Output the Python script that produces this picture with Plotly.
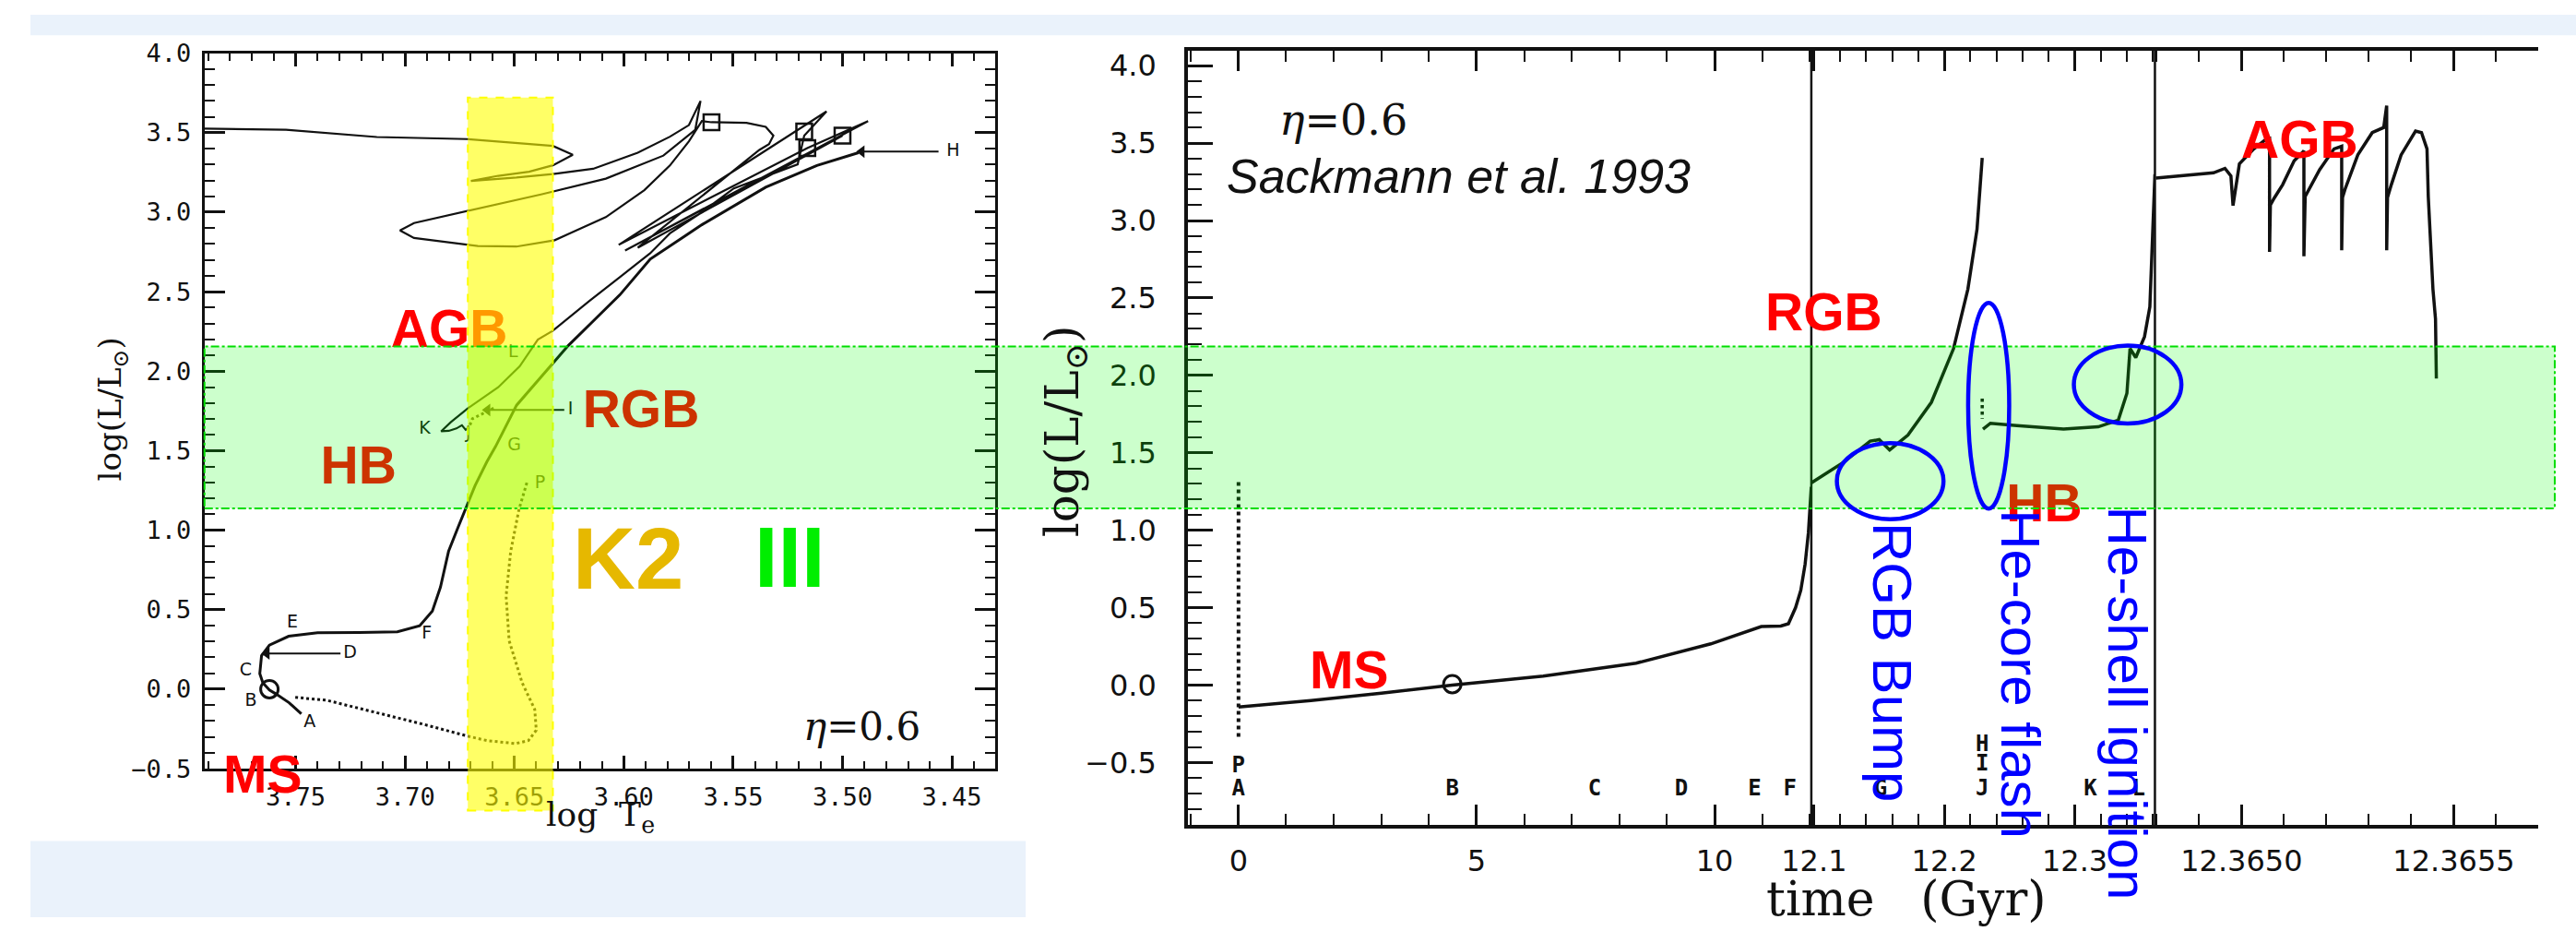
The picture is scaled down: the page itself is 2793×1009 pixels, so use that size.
import plotly.graph_objects as go

W, H = 2793, 1009

# ---------------- Left panel: HR diagram (log Te, log L) ----------------
pre_ms_logT = [3.6443, 3.6479, 3.6517, 3.6538, 3.6524, 3.6465, 3.6407, 3.6400, 3.6436, 3.6495, 3.6626, 3.6714, 3.6918, 3.7138, 3.7357, 3.7503]
pre_ms_logL = [1.299, 1.131, 0.867, 0.586, 0.305, 0.042, -0.127, -0.258, -0.323, -0.342, -0.323, -0.295, -0.220, -0.145, -0.070, -0.051]

ms_rgb_logT = [3.7474, 3.7530, 3.7590, 3.7620, 3.7650, 3.7664, 3.7656, 3.7620, 3.7532, 3.7400,
               3.7211, 3.7035, 3.6933, 3.6875, 3.6838, 3.6801, 3.6758, 3.6721, 3.6680, 3.6626,
               3.6587, 3.6490, 3.6324, 3.6254, 3.6157, 3.6018, 3.5879, 3.5643, 3.5351, 3.5117, 3.4927]
ms_rgb_logL = [-0.155, -0.085, -0.030, -0.005, 0.040, 0.098, 0.211, 0.277, 0.333, 0.355,
               0.357, 0.361, 0.399, 0.492, 0.642, 0.867, 1.017, 1.139, 1.280, 1.430,
               1.524, 1.786, 2.048, 2.161, 2.292, 2.480, 2.705, 2.921, 3.157, 3.294, 3.374]

flash_logT = [3.6595, 3.6653, 3.6692, 3.6705, 3.6720]
flash_logL = [1.767, 1.729, 1.701, 1.655, 1.627]

hb_agb_logT = [3.6720, 3.6740, 3.6765, 3.6800, 3.6835, 3.6790, 3.6712, 3.6574, 3.6476, 3.6393, 3.6324, 3.6157, 3.6018, 3.5879, 3.5789, 3.5643, 3.5497, 3.5205,
               3.5175, 3.5073, 3.6023, 3.5161, 3.4883, 3.5994, 3.5000, 3.5936, 3.5380, 3.5336, 3.5316, 3.5351, 3.5439, 3.5599, 3.5643,
               3.5702, 3.5789, 3.5906, 3.6082, 3.6316, 3.6491, 3.6667, 3.6959, 3.7023, 3.6959, 3.6696, 3.6374, 3.6082, 3.5819, 3.5673, 3.5649,
               3.5702, 3.5789, 3.5936, 3.6140, 3.6324, 3.6491, 3.6699, 3.6574, 3.6433, 3.6324, 3.6233, 3.6324, 3.6713, 3.7129, 3.7544, 3.7921]
hb_agb_logL = [1.627, 1.660, 1.640, 1.625, 1.622, 1.680, 1.767, 1.899, 2.030, 2.199, 2.255, 2.442, 2.592, 2.742, 2.867, 3.000, 3.150, 3.301,
               3.482, 3.634, 2.795, 3.403, 3.573, 2.759, 3.482, 2.777, 3.392, 3.428, 3.482, 3.537, 3.562, 3.566, 3.573,
               3.446, 3.294, 3.139, 2.969, 2.824, 2.784, 2.788, 2.838, 2.885, 2.932, 3.012, 3.113, 3.211, 3.356, 3.519, 3.700,
               3.548, 3.475, 3.374, 3.273, 3.240, 3.218, 3.197, 3.229, 3.255, 3.295, 3.361, 3.417, 3.460, 3.473, 3.519, 3.526]

square_logT = [3.5599, 3.5175, 3.5000, 3.5161]
square_logL = [3.566, 3.508, 3.482, 3.403]
circle_logT = [3.7620]
circle_logL = [0.000]

left_point_labels = ["A", "B", "C", "E", "F", "G", "J", "K", "L", "P"]
left_point_logT = [3.7436, 3.7705, 3.7728, 3.7515, 3.6901, 3.6500, 3.6710, 3.6910, 3.6506, 3.6383]
left_point_logL = [-0.209, -0.075, 0.116, 0.417, 0.345, 1.528, 1.608, 1.637, 2.118, 1.293]

arrow_labels = ["H", "I", "D"]
arrow_label_logT = [3.4494, 3.6243, 3.7251]
arrow_tail_logT = [3.4561, 3.6272, 3.7295]
arrow_tip_logT = [3.4912, 3.6623, 3.7632]
arrow_logL = [3.381, 1.756, 0.225]

left_xticks = [3.75, 3.70, 3.65, 3.60, 3.55, 3.50, 3.45]
left_xticklabels = ["3.75", "3.70", "3.65", "3.60", "3.55", "3.50", "3.45"]
left_yticks = [-0.5, 0.0, 0.5, 1.0, 1.5, 2.0, 2.5, 3.0, 3.5, 4.0]
left_yticklabels = ["−0.5", "0.0", "0.5", "1.0", "1.5", "2.0", "2.5", "3.0", "3.5", "4.0"]

# ---------------- Right panel: log L versus time (broken time axis) ----------------
pre_ms_time = [0.0, 0.0]
pre_ms_lum = [1.311, -0.336]

ms_time = [0.0, 1.52, 3.0, 4.49, 6.40, 8.35, 9.92, 10.98, 11.39, 11.55, 11.70, 11.81, 11.90, 11.97, 12.03]
ms_lum = [-0.142, -0.100, -0.052, 0.000, 0.058, 0.141, 0.266, 0.378, 0.381, 0.396, 0.500, 0.612, 0.780, 0.985, 1.280]

rgb_time = [12.098, 12.123, 12.143, 12.150, 12.158, 12.172, 12.190, 12.207, 12.218, 12.225, 12.229]
rgb_lum = [1.306, 1.441, 1.575, 1.585, 1.518, 1.614, 1.826, 2.173, 2.557, 2.943, 3.405]

flash_time = [12.229, 12.229]
flash_lum = [1.85, 1.72]

hb_time = [12.2296, 12.2353, 12.2556, 12.2914, 12.3180, 12.3334, 12.3400, 12.3424, 12.3468, 12.3535, 12.3576, 12.3600, 12.3615]
hb_lum = [1.653, 1.691, 1.676, 1.653, 1.668, 1.711, 1.884, 2.173, 2.115, 2.250, 2.442, 2.943, 3.300]

agb_time = [12.364798, 12.364880, 12.364934, 12.364961, 12.364975, 12.364980, 12.364990, 12.364995, 12.365029, 12.365056,
            12.365066, 12.365066, 12.365068, 12.365077, 12.365097, 12.365124, 12.365145, 12.365147, 12.365147, 12.365150,
            12.365184, 12.365218, 12.365236, 12.365236, 12.365238, 12.365244, 12.365274, 12.365308, 12.365335, 12.365342,
            12.365342, 12.365344, 12.365353, 12.365376, 12.365410, 12.365424, 12.365437, 12.365440, 12.365451, 12.365457, 12.365459]
agb_lum = [3.274, 3.293, 3.308, 3.337, 3.289, 3.097, 3.300, 3.366, 3.463, 3.521,
           3.530, 2.798, 3.100, 3.145, 3.232, 3.386, 3.444, 3.450, 2.770, 3.155,
           3.328, 3.463, 3.480, 2.808, 3.150, 3.203, 3.424, 3.568, 3.601, 3.742,
           2.808, 3.150, 3.232, 3.424, 3.578, 3.568, 3.463, 3.155, 2.557, 2.365, 1.980]

ms_circle_time = [4.49]
ms_circle_lum = [0.006]

seg1_labels = ["P", "A", "B", "C", "D", "E", "F"]
seg1_label_time = [0.0, 0.0, 4.49, 7.48, 9.30, 10.84, 11.58]
seg1_label_lum = [-0.529, -0.679, -0.679, -0.679, -0.679, -0.679, -0.679]
seg2_labels = ["H", "I", "G", "J", "K", "L"]
seg2_label_time = [12.229, 12.229, 12.151, 12.229, 12.312, 12.349]
seg2_label_lum = [-0.389, -0.518, -0.679, -0.679, -0.679, -0.679]

seg1_ticks = [0, 5, 10]
seg1_ticklabels = ["0", "5", "10"]
seg2_ticks = [12.1, 12.2, 12.3]
seg2_ticklabels = ["12.1", "12.2", "12.3"]
seg3_ticks = [12.3650, 12.3655]
seg3_ticklabels = ["12.3650", "12.3655"]
right_yticks = [-0.5, 0.0, 0.5, 1.0, 1.5, 2.0, 2.5, 3.0, 3.5, 4.0]
right_yticklabels = ["−0.5", "0.0", "0.5", "1.0", "1.5", "2.0", "2.5", "3.0", "3.5", "4.0"]

# ---------------- geometry ----------------
L_XDOM = [191 / W, 1059 / W]
L_YDOM = [1 - 843 / H, 1 - 43 / H]
L_XR = [3.79167, 3.43]
L_YR = [-0.5, 4.0]

R_YDOM = [1 - 906 / H, 1 - 40 / H]
R_YR = [-0.9044, 4.0982]
S1_DOM = [1270 / W, 1954 / W]
S2_DOM = [1954 / W, 2331 / W]
S3_DOM = [2331 / W, 2752 / W]
S1_R = [-1.0624, 12.031]
S2_R = [12.0979, 12.3615]
S3_R = [12.364796, 12.365700]


def to_paper(v, rng, dom):
    return dom[0] + (v - rng[0]) / (rng[1] - rng[0]) * (dom[1] - dom[0])


def px(xp):
    return xp / W


def py(yp):
    return 1 - yp / H


BLACK = "#111111"
SANS = "Liberation Sans, Arial, sans-serif"
SERIF = "DejaVu Serif, serif"

fig = go.Figure()

# ---- left panel traces ----
fig.add_trace(go.Scatter(x=pre_ms_logT, y=pre_ms_logL, mode="lines",
                         line=dict(color=BLACK, width=3, dash="dot"), xaxis="x", yaxis="y"))
fig.add_trace(go.Scatter(x=ms_rgb_logT, y=ms_rgb_logL, mode="lines",
                         line=dict(color=BLACK, width=3), xaxis="x", yaxis="y"))
fig.add_trace(go.Scatter(x=flash_logT, y=flash_logL, mode="lines",
                         line=dict(color=BLACK, width=3, dash="dot"), xaxis="x", yaxis="y"))
fig.add_trace(go.Scatter(x=hb_agb_logT, y=hb_agb_logL, mode="lines",
                         line=dict(color=BLACK, width=2.2), xaxis="x", yaxis="y"))
fig.add_trace(go.Scatter(x=square_logT, y=square_logL, mode="markers",
                         marker=dict(symbol="square-open", size=17, color=BLACK, line=dict(width=2.5)),
                         xaxis="x", yaxis="y"))
fig.add_trace(go.Scatter(x=circle_logT, y=circle_logL, mode="markers",
                         marker=dict(symbol="circle-open", size=19, color=BLACK, line=dict(width=3)),
                         xaxis="x", yaxis="y"))
for i in range(len(arrow_labels)):
    fig.add_trace(go.Scatter(x=[arrow_tail_logT[i], arrow_tip_logT[i]], y=[arrow_logL[i], arrow_logL[i]],
                             mode="lines", line=dict(color=BLACK, width=2), xaxis="x", yaxis="y"))
fig.add_trace(go.Scatter(x=arrow_tip_logT, y=arrow_logL, mode="markers",
                         marker=dict(symbol="triangle-left", size=12, color=BLACK),
                         xaxis="x", yaxis="y"))
fig.add_trace(go.Scatter(x=left_point_logT + arrow_label_logT, y=left_point_logL + arrow_logL,
                         text=left_point_labels + arrow_labels, mode="text",
                         textfont=dict(family="DejaVu Sans", size=19, color=BLACK),
                         xaxis="x", yaxis="y", cliponaxis=False))
# phase labels of the left panel (kept under the translucent overlays)
fig.add_trace(go.Scatter(x=[3.6798, 3.5921, 3.7213], y=[2.234, 1.728, 1.379], text=["AGB", "RGB", "HB"],
                         mode="text", textfont=dict(family=SANS, size=57, color="#FF0000", weight="bold"),
                         xaxis="x", yaxis="y", cliponaxis=False))

# ---- right panel traces ----
fig.add_trace(go.Scatter(x=pre_ms_time, y=pre_ms_lum, mode="lines",
                         line=dict(color=BLACK, width=4, dash="dot"), xaxis="x2", yaxis="y2"))
fig.add_trace(go.Scatter(x=ms_time, y=ms_lum, mode="lines",
                         line=dict(color=BLACK, width=3.5), xaxis="x2", yaxis="y2"))
fig.add_trace(go.Scatter(x=ms_circle_time, y=ms_circle_lum, mode="markers",
                         marker=dict(symbol="circle-open", size=19, color=BLACK, line=dict(width=3)),
                         xaxis="x2", yaxis="y2"))
fig.add_trace(go.Scatter(x=rgb_time, y=rgb_lum, mode="lines",
                         line=dict(color=BLACK, width=3.5), xaxis="x3", yaxis="y2"))
fig.add_trace(go.Scatter(x=flash_time, y=flash_lum, mode="lines",
                         line=dict(color=BLACK, width=3.5, dash="dot"), xaxis="x3", yaxis="y2"))
fig.add_trace(go.Scatter(x=hb_time, y=hb_lum, mode="lines",
                         line=dict(color=BLACK, width=3.5), xaxis="x3", yaxis="y2"))
fig.add_trace(go.Scatter(x=agb_time, y=agb_lum, mode="lines",
                         line=dict(color=BLACK, width=3.5), xaxis="x4", yaxis="y2"))
fig.add_trace(go.Scatter(x=seg1_label_time, y=seg1_label_lum, text=seg1_labels, mode="text",
                         textfont=dict(family="DejaVu Sans Mono", size=24, color=BLACK, weight="bold"),
                         xaxis="x2", yaxis="y2", cliponaxis=False))
fig.add_trace(go.Scatter(x=seg2_label_time, y=seg2_label_lum, text=seg2_labels, mode="text",
                         textfont=dict(family="DejaVu Sans Mono", size=24, color=BLACK, weight="bold"),
                         xaxis="x3", yaxis="y2", cliponaxis=False))
fig.add_trace(go.Scatter(x=[12.2766], y=[1.140], text=["HB"], mode="text",
                         textfont=dict(family=SANS, size=57, color="#FF0000", weight="bold"),
                         xaxis="x3", yaxis="y2", cliponaxis=False))

# ---------------- axes ----------------
tickf_left = dict(family="DejaVu Sans Mono", size=27, color=BLACK)
tickf_right = dict(family="DejaVu Sans", size=32, color=BLACK)
common = dict(showgrid=False, zeroline=False, showline=True, linecolor=BLACK, mirror="ticks",
              ticks="inside", tickcolor=BLACK)

layout_axes = dict(
    xaxis=dict(domain=L_XDOM, range=L_XR, anchor="y", tickvals=left_xticks, ticktext=left_xticklabels,
               ticklen=14, tickwidth=2.5, linewidth=3, tickfont=tickf_left, ticklabelstandoff=4,
               minor=dict(dtick=0.01, tick0=3.45, ticklen=8, tickwidth=2, ticks="inside", tickcolor=BLACK),
               **common),
    yaxis=dict(domain=L_YDOM, range=L_YR, anchor="x", tickvals=left_yticks, ticktext=left_yticklabels,
               ticklen=22, tickwidth=2.5, linewidth=3, tickfont=tickf_left, ticklabelstandoff=6,
               minor=dict(dtick=0.1, tick0=0, ticklen=11, tickwidth=2, ticks="inside", tickcolor=BLACK),
               **common),
    xaxis2=dict(domain=S1_DOM, range=S1_R, anchor="y2", tickvals=seg1_ticks, ticktext=seg1_ticklabels,
                ticklen=22, tickwidth=2.5, linewidth=3.5, tickfont=tickf_right, ticklabelstandoff=8,
                minor=dict(dtick=1, tick0=0, ticklen=12, tickwidth=2, ticks="inside", tickcolor=BLACK),
                **common),
    xaxis3=dict(domain=S2_DOM, range=S2_R, anchor="y2", tickvals=seg2_ticks, ticktext=seg2_ticklabels,
                ticklen=22, tickwidth=2.5, linewidth=3.5, tickfont=tickf_right, ticklabelstandoff=8,
                minor=dict(dtick=0.02, tick0=12.1, ticklen=12, tickwidth=2, ticks="inside", tickcolor=BLACK),
                **common),
    xaxis4=dict(domain=S3_DOM, range=S3_R, anchor="y2", tickvals=seg3_ticks, ticktext=seg3_ticklabels,
                ticklen=22, tickwidth=2.5, linewidth=3.5, tickfont=tickf_right, ticklabelstandoff=8,
                minor=dict(dtick=0.0001, tick0=12.365, ticklen=12, tickwidth=2, ticks="inside", tickcolor=BLACK),
                **common),
    yaxis2=dict(domain=R_YDOM, range=R_YR, anchor="x2", tickvals=right_yticks, ticktext=right_yticklabels,
                ticklen=27, tickwidth=2.5, linewidth=3.5, tickfont=tickf_right, ticklabelstandoff=24,
                minor=dict(dtick=0.1, tick0=0, ticklen=15, tickwidth=2, ticks="inside", tickcolor=BLACK),
                showgrid=False, zeroline=False, showline=True, linecolor=BLACK, ticks="inside", tickcolor=BLACK),
    yaxis5=dict(domain=R_YDOM, range=R_YR, anchor="x4", overlaying="y2", side="right", tickvals=right_yticks,
                showticklabels=False, ticklen=27, tickwidth=2.5, linewidth=3.5,
                minor=dict(dtick=0.1, tick0=0, ticklen=15, tickwidth=2, ticks="inside", tickcolor=BLACK),
                showgrid=False, zeroline=False, showline=True, linecolor=BLACK, ticks="inside", tickcolor=BLACK),
)

# ---------------- overlays ----------------
shapes = []
# light-blue slide background strips
shapes.append(dict(type="rect", xref="paper", yref="paper", x0=0, x1=1, y0=py(23), y1=1,
                   fillcolor="#EAF2FB", line=dict(width=0), layer="below"))
shapes.append(dict(type="rect", xref="paper", yref="paper", x0=0, x1=px(1092), y0=0, y1=py(924),
                   fillcolor="#EAF2FB", line=dict(width=0), layer="below"))
# axis-break lines of the time axis
for xb in (S2_DOM[0], S3_DOM[0]):
    shapes.append(dict(type="line", xref="paper", yref="paper", x0=xb, x1=xb, y0=R_YDOM[0], y1=R_YDOM[1],
                       line=dict(color=BLACK, width=2.5), layer="above"))
# yellow K2 strip (log Te range), drawn over the figure
yel_logT = [3.6713, 3.6324]
yel_logL = [-0.764, 3.7205]
shapes.append(dict(type="rect", xref="paper", yref="paper",
                   x0=to_paper(yel_logT[0], L_XR, L_XDOM), x1=to_paper(yel_logT[1], L_XR, L_XDOM),
                   y0=to_paper(yel_logL[0], L_YR, L_YDOM), y1=to_paper(yel_logL[1], L_YR, L_YDOM),
                   fillcolor="rgba(255,255,0,0.6)", line=dict(color="#FFFF00", width=2, dash="dash"), layer="above"))
# green luminosity band across both panels
band_logL = [1.137, 2.155]
shapes.append(dict(type="rect", xref="paper", yref="paper",
                   x0=L_XDOM[0], x1=to_paper(12.365738, S3_R, S3_DOM),
                   y0=to_paper(band_logL[0], L_YR, L_YDOM), y1=to_paper(band_logL[1], L_YR, L_YDOM),
                   fillcolor="rgba(0,255,0,0.2)", line=dict(color="#00DD00", width=2, dash="dashdot"), layer="above"))
# blue ellipses in the time panel (time in Gyr on the middle segment, log L)
ell_t0 = [12.1175, 12.2182, 12.2993]
ell_t1 = [12.1993, 12.2497, 12.3818]
ell_l0 = [1.071, 1.140, 1.689]
ell_l1 = [1.562, 2.469, 2.192]
for i in range(3):
    shapes.append(dict(type="circle", xref="paper", yref="paper",
                       x0=to_paper(ell_t0[i], S2_R, S2_DOM), x1=to_paper(ell_t1[i], S2_R, S2_DOM),
                       y0=to_paper(ell_l0[i], R_YR, R_YDOM), y1=to_paper(ell_l1[i], R_YR, R_YDOM),
                       line=dict(color="#0000FF", width=4.5), layer="above"))

ann = []
def add_text(text, x, y, size, color=BLACK, family=SANS, angle=0, xref="paper", yref="paper", xanchor="center"):
    ann.append(dict(text=text, x=x, y=y, xref=xref, yref=yref, showarrow=False, textangle=angle,
                    xanchor=xanchor, yanchor="middle", font=dict(family=family, size=size, color=color)))

# axis titles
add_text("log(L/L<sub>⊙</sub>)", px(90), py(441), 34, family=SERIF, angle=-90)
add_text("log  T<sub>e</sub>", px(625), py(897), 36, family=SERIF)
add_text("log(L/L<sub>⊙</sub>)", px(1136), py(466), 50, family=SERIF, angle=-90)
add_text("time   (Gyr)", px(2058), py(988), 52, family=SERIF)

# left panel texts
add_text("<b>MS</b>", to_paper(3.765, L_XR, L_XDOM), py(849), 57, color="#FF0000")
add_text("<b>K2</b>", 3.5979, 0.822, 94, color="#E6B800", xref="x", yref="y")
add_text("<b>III</b>", 3.5242, 0.828, 92, color="#00EE00", xref="x", yref="y")
add_text("<i>η</i>=0.6", 3.4912, -0.238, 42, family=SERIF, xref="x", yref="y")

# right panel texts
add_text("<i>η</i>=0.6", 2.21, 3.648, 46, family=SERIF, xref="x2", yref="y2")
add_text("<i>Sackmann et al. 1993</i>", -0.28, 3.284, 52, xref="x2", yref="y2", xanchor="left")
add_text("<b>MS</b>", 2.326, 0.097, 57, color="#FF0000", xref="x2", yref="y2")
add_text("<b>RGB</b>", 12.1077, 2.408, 57, color="#FF0000", xref="x3", yref="y2")
add_text("<b>AGB</b>", 12.365137, 3.526, 57, color="#FF0000", xref="x4", yref="y2")
add_text("RGB Bump", 12.1594, 0.147, 60, color="#0000FF", angle=90, xref="x3", yref="y2")
add_text("He-core flash", 12.2580, 0.072, 60, color="#0000FF", angle=90, xref="x3", yref="y2")
add_text("He-shell ignition", 12.3406, -0.119, 60, color="#0000FF", angle=90, xref="x3", yref="y2")

fig.update_layout(
    width=W, height=H, margin=dict(l=0, r=0, t=0, b=0),
    paper_bgcolor="white", plot_bgcolor="rgba(0,0,0,0)",
    showlegend=False, shapes=shapes, annotations=ann, **layout_axes,
)

fig.write_html("out.html",
               post_script="document.body.style.margin='0px';document.body.style.overflow='hidden';")
